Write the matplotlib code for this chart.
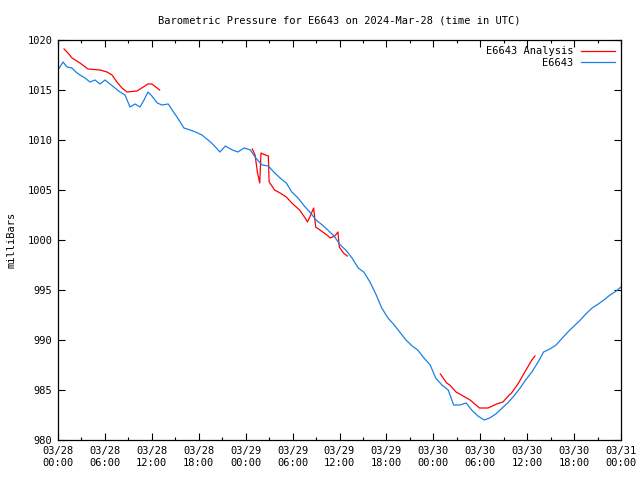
import numpy as np
import matplotlib
matplotlib.use("Agg")
import matplotlib.pyplot as plt
from matplotlib.ticker import MultipleLocator

# hours since 2024-03-28 00:00 UTC
obs_hours = [0.0, 0.64, 1.15, 1.79, 2.30, 2.81, 3.45, 4.09, 4.73, 5.37, 6.01, 6.65, 7.29, 7.93,
             8.57, 9.21, 9.85, 10.49, 11.0, 11.5, 12.0, 12.7, 13.3, 14.1, 14.6, 15.3, 16.1, 16.9,
             17.6, 18.4, 19.2, 19.9, 20.7, 21.4, 22.3, 23.0, 23.8, 24.6, 25.3, 26.1, 26.9, 27.6,
             28.4, 29.2, 29.9, 30.7, 31.5, 32.2, 33.0, 33.8, 34.5, 35.3, 36.1, 36.8, 37.6, 38.4,
             39.1, 39.9, 40.7, 41.4, 42.2, 43.0, 43.7, 44.5, 45.3, 46.0, 46.8, 47.6, 48.3, 49.1,
             49.9, 50.6, 51.4, 52.2, 52.9, 53.7, 54.5, 55.2, 56.0, 56.8, 57.5, 58.3, 59.1, 59.8,
             60.6, 61.4, 62.1, 62.9, 63.7, 64.5, 65.2, 66.0, 66.8, 67.5, 68.3, 69.1, 69.8, 70.6,
             71.4, 72.0]
obs_mb = [1017.0, 1017.8, 1017.3, 1017.2, 1016.8, 1016.5, 1016.2, 1015.8, 1016.0, 1015.6, 1016.0,
          1015.6, 1015.2, 1014.8, 1014.5, 1013.3, 1013.6, 1013.3, 1014.0, 1014.8, 1014.4, 1013.7,
          1013.5, 1013.6, 1013.0, 1012.2, 1011.2, 1011.0, 1010.8, 1010.5, 1010.0, 1009.5, 1008.8,
          1009.4, 1009.0, 1008.8, 1009.2, 1009.0, 1008.2, 1007.5, 1007.4, 1006.8, 1006.2, 1005.7,
          1004.8, 1004.2, 1003.4, 1002.8, 1002.0, 1001.5, 1001.0, 1000.4, 999.5, 999.0, 998.2,
          997.2, 996.8, 995.8, 994.5, 993.2, 992.2, 991.5, 990.8, 990.0, 989.4, 989.0, 988.2,
          987.5, 986.2, 985.5, 985.0, 983.5, 983.5, 983.7, 983.0, 982.4, 982.0, 982.2, 982.6,
          983.2, 983.7, 984.4, 985.2, 986.0, 986.8, 987.8, 988.8, 989.1, 989.5, 990.2, 990.8,
          991.4, 992.0, 992.6, 993.2, 993.6, 994.0, 994.5, 994.9, 995.3]

# analysis runs (three segments)
ana1_hours = [0.77, 1.28, 1.79, 2.81, 3.84, 5.37, 6.27, 6.91, 7.54, 8.18, 8.82, 10.1, 10.9, 11.5, 12.0, 13.0]
ana1_mb = [1019.1, 1018.7, 1018.2, 1017.7, 1017.1, 1017.0, 1016.8, 1016.5, 1015.8, 1015.2, 1014.8,
           1014.9, 1015.3, 1015.6, 1015.6, 1015.0]
ana2_hours = [24.85, 25.2, 25.5, 25.8, 25.96, 26.2, 26.9, 27.0, 27.1, 27.7, 28.4, 29.2, 29.9, 30.9,
              31.6, 31.9, 32.2, 32.7, 32.95, 33.5, 34.4, 34.8, 35.4, 35.8, 35.97, 36.5, 37.0]
ana2_mb = [1009.1, 1008.5, 1006.8, 1005.7, 1008.7, 1008.6, 1008.4, 1005.8, 1005.7, 1005.0, 1004.7,
           1004.3, 1003.7, 1003.0, 1002.2, 1001.8, 1002.3, 1003.2, 1001.3, 1001.0, 1000.5, 1000.2,
           1000.4, 1000.8, 999.3, 998.7, 998.4]
ana3_hours = [48.9, 49.7, 50.1, 50.9, 51.6, 52.7, 53.9, 55.0, 56.1, 56.9, 57.7, 58.0, 58.9, 59.7, 60.6, 61.0]
ana3_mb = [986.6, 985.7, 985.5, 984.8, 984.5, 984.0, 983.2, 983.2, 983.6, 983.8, 984.5, 984.7,
           985.7, 986.8, 988.0, 988.4]

tick_hours = [0, 6, 12, 18, 24, 30, 36, 42, 48, 54, 60, 66, 72]
tick_labels = ["03/28\n00:00", "03/28\n06:00", "03/28\n12:00", "03/28\n18:00",
               "03/29\n00:00", "03/29\n06:00", "03/29\n12:00", "03/29\n18:00",
               "03/30\n00:00", "03/30\n06:00", "03/30\n12:00", "03/30\n18:00",
               "03/31\n00:00"]

plt.rcParams['font.family'] = 'DejaVu Sans Mono'
fs = 7.5

fig = plt.figure(figsize=(6.4, 4.8), dpi=100)
ax = fig.add_axes([58/640, 40/480, 563/640, 400/480])

# join analysis segments with NaN gaps
ana_h = ana1_hours + [np.nan] + ana2_hours + [np.nan] + ana3_hours
ana_v = ana1_mb + [np.nan] + ana2_mb + [np.nan] + ana3_mb
ax.plot(ana_h, ana_v, color='#ff0000', lw=0.9, label='E6643 Analysis')
ax.plot(obs_hours, obs_mb, color='#1a80e6', lw=0.9, label='E6643')

ax.set_xlim(0, 72)
ax.set_ylim(980, 1020)
ax.set_xticks(tick_hours)
ax.set_xticklabels(tick_labels, fontsize=fs, linespacing=1.25)
ax.xaxis.set_minor_locator(MultipleLocator(3))
ax.yaxis.set_major_locator(MultipleLocator(5))
ax.tick_params(axis='both', which='major', direction='in', length=5, width=0.8,
               top=True, right=True, labelsize=fs, pad=4)
ax.tick_params(axis='both', which='minor', direction='in', length=2.5, width=0.8,
               top=True, right=True)
for s in ax.spines.values():
    s.set_linewidth(0.9)

ax.set_ylabel('milliBars', fontsize=fs, labelpad=8)
ax.set_title('Barometric Pressure for E6643 on 2024-Mar-28 (time in UTC)', fontsize=fs, pad=12)

ax.legend(loc='upper right', frameon=False, fontsize=fs, markerfirst=False,
          handlelength=3.2, borderaxespad=0.2, labelspacing=0.15, handletextpad=0.8)

fig.savefig('out.png', dpi=100)
